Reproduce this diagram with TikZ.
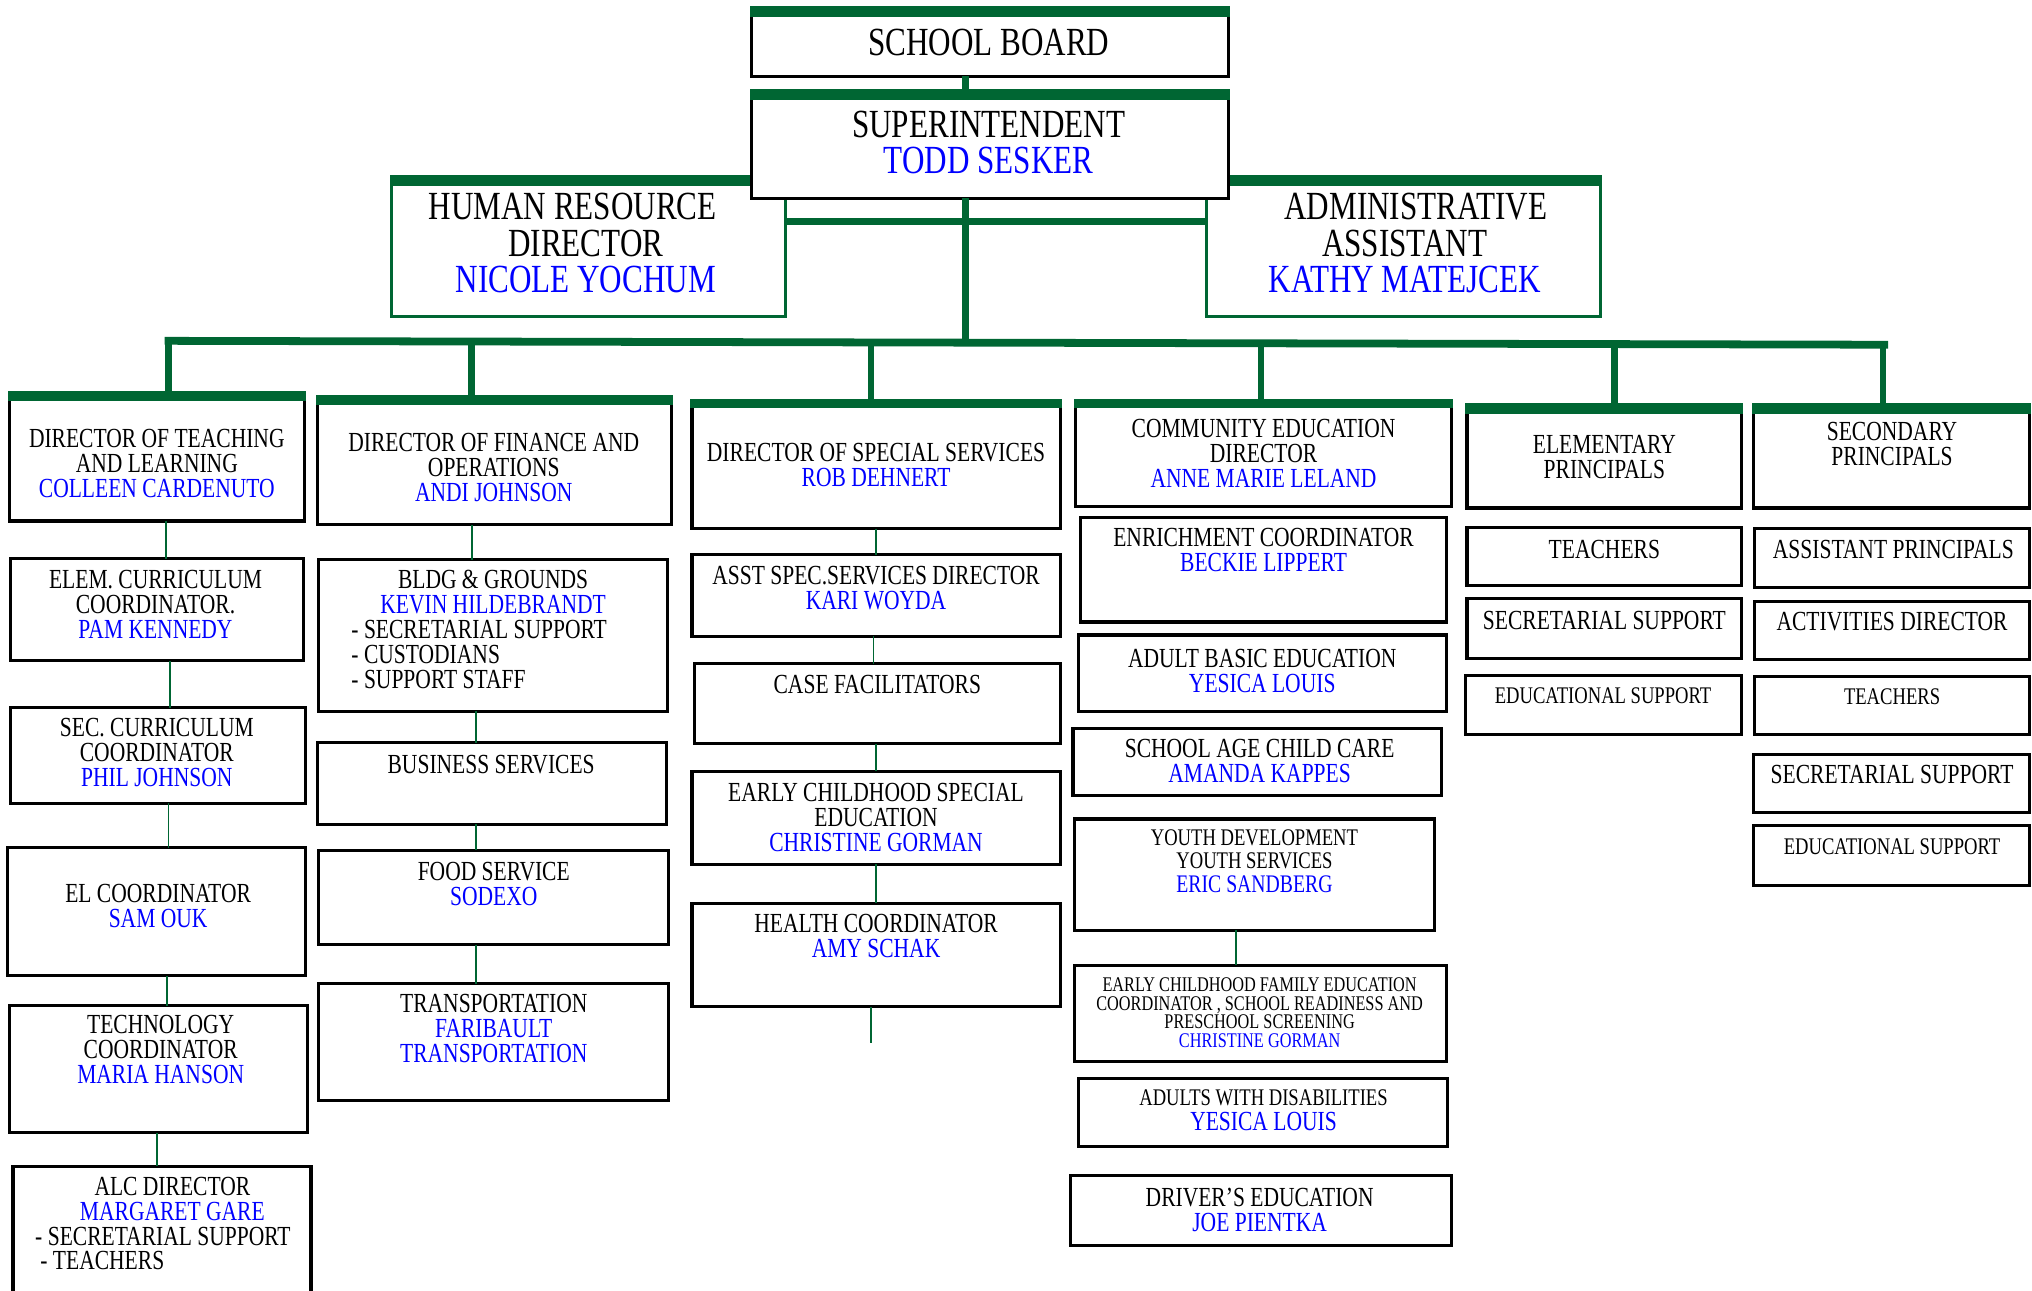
\documentclass[tikz,border=0pt]{standalone}
\usepackage{fontspec}
\setmainfont{Liberation Serif}[FakeStretch=0.78]
\definecolor{og}{RGB}{0,102,51}
\definecolor{nb}{RGB}{0,0,255}
\tikzset{
 box/.style={draw=black,line width=2.4pt,fill=white,inner sep=0pt,outer sep=0pt},
 gbox/.style={draw=og,line width=2pt,fill=white,inner sep=0pt,outer sep=0pt},
 link/.style={draw=og,line width=1.4pt},
 trunk/.style={draw=og,line width=5pt},
 hbar/.style={draw=og,line width=6pt},
 ttl/.style={align=center,inner sep=0pt,font=\fontsize{30.8}{28}\selectfont},
 nrm/.style={align=center,inner sep=0pt,font=\fontsize{21.3}{19.3}\selectfont},
 sml/.style={align=center,inner sep=0pt,font=\fontsize{18.4}{17.5}\selectfont},
 tny/.style={align=center,inner sep=0pt,font=\fontsize{16.1}{14.3}\selectfont},
}
\newcommand\pname[1]{\textcolor{nb}{#1}}
\newcommand\fnrm{\fontsize{21.3}{19.3}\selectfont}
\newcommand\fmid{\fontsize{19.5}{18}\selectfont}
\newcommand\bx[6][box]{\node[#1,minimum width={(#5-#3)*1pt},minimum height={(#6-#4)*1pt}] (#2) at ({(#3+#5)/2},{(#4+#6)/2}) {};}
\newcommand\gb[2]{\fill[og] ([xshift=-1.2pt,yshift=-1.2pt]#1.north west) rectangle ([xshift=1.2pt,yshift=#2pt]#1.north east);}
\newcommand\lk[3]{\coordinate (lx) at (#1,0); \draw[link] (#2.south -| lx) -- (#3.north -| lx);}
\begin{document}
\begin{tikzpicture}[x=1pt,y=-1pt]
\useasboundingbox (0,0) rectangle (1568,996);
% side boxes of superintendent
\bx[gbox]{hr}{302}{142}{606}{244} \gb{hr}{7}
\bx[gbox]{aa}{931}{142}{1235}{244} \gb{aa}{7}
% top boxes
\bx{sb}{580}{12}{948}{59} \gb{sb}{7}
\bx{sup}{580}{76}{948}{153} \gb{sup}{7}
% heads
\bx{c1}{7}{308}{235}{402} \gb{c1}{6}
\bx{c2}{245}{311}{518}{405} \gb{c2}{6}
\bx{c3}{534}{314}{818}{408} \gb{c3}{6}
\bx{c4}{830}{314}{1120}{391} \gb{c4}{6}
\bx{c5}{1132}{318}{1344}{392} \gb{c5}{7}
\bx{c6}{1353}{318}{1566}{392} \gb{c6}{7}
% column 1
\bx{a1}{8}{431}{234}{510}
\bx{a2}{8}{546}{236}{620}
\bx{a3}{6}{654}{236}{753}
\bx{a4}{7}{776}{237}{874}
\bx{a5}{10}{900}{240}{1002}
% column 2
\bx{b1}{246}{432}{515}{549}
\bx{b2}{245}{573}{514}{636}
\bx{b3}{246}{656}{516}{729}
\bx{b4}{246}{759}{516}{849}
% column 3
\bx{d1}{534}{428}{818}{491}
\bx{d2}{536}{512}{818}{574}
\bx{d3}{534}{595}{818}{667}
\bx{d4}{534}{697}{818}{777}
% column 4
\bx{e1}{834}{399}{1116}{480}
\bx{e2}{832}{490}{1116}{549}
\bx{e3}{828}{562}{1112}{614}
\bx{e4}{829}{632}{1107}{718}
\bx{e5}{829}{745}{1116}{819}
\bx{e6}{832}{832}{1117}{885}
\bx{e7}{826}{907}{1120}{961}
% column 5
\bx{f1}{1132}{407}{1344}{452}
\bx{f2}{1132}{462}{1344}{508}
\bx{f3}{1131}{521}{1344}{567}
% column 6
\bx{g1}{1354}{408}{1566}{453}
\bx{g2}{1354}{464}{1566}{509}
\bx{g3}{1354}{522}{1566}{567}
\bx{g4}{1353}{582}{1566}{627}
\bx{g5}{1353}{637}{1566}{683}
% trunk connectors
\coordinate (sbx) at (745,0);
\draw[trunk] (sb.south -| sbx) -- ([yshift=7pt]sup.north -| sbx);
\coordinate (hry) at (0,171);
\draw[hbar] (hr.east |- hry) -- (aa.west |- hry);
\coordinate (bl) at (127,263);
\coordinate (br) at (1457,266);
\coordinate (bm) at (745,264.4);
\draw[trunk] (sup.south -| bm) -- (bm);
\draw[hbar] (bl) -- (br);
\coordinate (j1) at (130,263);
\coordinate (j2) at (364,263.5);
\coordinate (j3) at (672,264.2);
\coordinate (j4) at (973,264.9);
\coordinate (j5) at (1246,265.5);
\coordinate (j6) at (1453,266);
\foreach \j/\c/\h in {j1/c1/6,j2/c2/6,j3/c3/6,j4/c4/6,j5/c5/7,j6/c6/7}
  \draw[trunk] (\j) -- ([yshift=\h pt]\c.north -| \j);
% thin links
\lk{128}{c1}{a1} \lk{131}{a1}{a2} \lk{130}{a2}{a3} \lk{129}{a3}{a4} \lk{121}{a4}{a5}
\lk{364}{c2}{b1} \lk{367}{b1}{b2} \lk{367}{b2}{b3} \lk{367}{b3}{b4}
\lk{676}{c3}{d1} \lk{674}{d1}{d2} \lk{676}{d2}{d3} \lk{676}{d3}{d4}
\coordinate (dend) at (672,805);
\draw[link] (d4.south -| dend) -- (dend);
\lk{954}{e4}{e5}
% texts
\node[ttl] (tsb) at (763,33) {SCHOOL BOARD};
\node[ttl] (tsup) at (763,110) {SUPERINTENDENT\\\pname{TODD SESKER}};
\node[ttl] (thr) at (452,187.5) {HUMAN RESOURCE\kern20pt\\DIRECTOR\\\pname{NICOLE YOCHUM}};
\node[ttl] (taa) at (1084,187.5) {\kern17pt ADMINISTRATIVE\\ASSISTANT\\\pname{KATHY MATEJCEK}};
\node[nrm] (tc1) at (121,358) {DIRECTOR OF TEACHING\\AND LEARNING\\\pname{COLLEEN CARDENUTO}};
\node[nrm] (tc2) at (381,361) {DIRECTOR OF FINANCE AND\\OPERATIONS\\\pname{ANDI JOHNSON}};
\node[nrm] (tc3) at (676,358.5) {DIRECTOR OF SPECIAL SERVICES\\\pname{ROB DEHNERT}};
\node[nrm] (tc4) at (975,349.5) {COMMUNITY EDUCATION\\DIRECTOR\\\pname{ANNE MARIE LELAND}};
\node[nrm] (tc5) at (1238,352.5) {ELEMENTARY\\PRINCIPALS};
\node[nrm] (tc6) at (1460,342.5) {SECONDARY\\PRINCIPALS};
\node[nrm] (ta1) at (120,466.5) {ELEM. CURRICULUM\\COORDINATOR.\\\pname{PAM KENNEDY}};
\node[nrm] (ta2) at (121,581) {SEC. CURRICULUM\\COORDINATOR\\\pname{PHIL JOHNSON}};
\node[nrm] (ta3) at (122,699) {EL COORDINATOR\\\pname{SAM OUK}};
\node[nrm] (ta4) at (124,810) {TECHNOLOGY\\COORDINATOR\\\pname{MARIA HANSON}};
\node[nrm] (ta5) at (133,925.5) {ALC DIRECTOR\\\pname{MARGARET GARE}};
\node[nrm,anchor=west] (ta5a) at (27,954) {- SECRETARIAL SUPPORT};
\node[nrm,anchor=west] (ta5b) at (31,973) {- TEACHERS};
\node[nrm] (tb1) at (380.5,457) {BLDG \& GROUNDS\\\pname{KEVIN HILDEBRANDT}};
\node[nrm,align=left,anchor=west] (tb1a) at (271,505) {- SECRETARIAL SUPPORT\\- CUSTODIANS\\- SUPPORT STAFF};
\node[nrm] (tb2) at (379,590) {BUSINESS SERVICES};
\node[nrm] (tb3) at (381,682.5) {FOOD SERVICE\\\pname{SODEXO}};
\node[nrm] (tb4) at (381,794) {TRANSPORTATION\\\pname{FARIBAULT}\\\pname{TRANSPORTATION}};
\node[nrm] (td1) at (676,454) {ASST SPEC.SERVICES DIRECTOR\\\pname{KARI WOYDA}};
\node[nrm] (td2) at (677,528) {CASE FACILITATORS};
\node[nrm] (td3) at (676,630.5) {EARLY CHILDHOOD SPECIAL\\EDUCATION\\\pname{CHRISTINE GORMAN}};
\node[nrm] (td4) at (676,722.5) {HEALTH COORDINATOR\\\pname{AMY SCHAK}};
\node[nrm] (te1) at (975,424.5) {ENRICHMENT COORDINATOR\\\pname{BECKIE LIPPERT}};
\node[nrm] (te2) at (974,517.5) {ADULT BASIC EDUCATION\\\pname{YESICA LOUIS}};
\node[nrm] (te3) at (972,587.5) {SCHOOL AGE CHILD CARE\\\pname{AMANDA KAPPES}};
\node[align=center,inner sep=0pt,font=\fontsize{18.4}{18}\selectfont] (te4) at (968,664.5) {YOUTH DEVELOPMENT\\YOUTH SERVICES\\\pname{\fmid ERIC SANDBERG}};
\node[tny] (te5) at (972,781.5) {EARLY CHILDHOOD FAMILY EDUCATION\\COORDINATOR , SCHOOL READINESS AND\\PRESCHOOL SCREENING\\\pname{CHRISTINE GORMAN}};
\node[align=center,inner sep=0pt,font=\fontsize{18.4}{19.3}\selectfont] (te6) at (975,856.5) {ADULTS WITH DISABILITIES\\\pname{\fnrm YESICA LOUIS}};
\node[nrm] (te7) at (972,933.5) {DRIVER’S EDUCATION\\\pname{JOE PIENTKA}};
\node[nrm] (tf1) at (1238,424) {TEACHERS};
\node[nrm] (tf2) at (1238,479) {SECRETARIAL SUPPORT};
\node[sml] (tf3) at (1237,537) {EDUCATIONAL SUPPORT};
\node[nrm] (tg1) at (1461,424) {ASSISTANT PRINCIPALS};
\node[nrm] (tg2) at (1460,480) {ACTIVITIES DIRECTOR};
\node[sml] (tg3) at (1460,538) {TEACHERS};
\node[nrm] (tg4) at (1460,598) {SECRETARIAL SUPPORT};
\node[sml] (tg5) at (1460,653) {EDUCATIONAL SUPPORT};
\end{tikzpicture}
\end{document}
